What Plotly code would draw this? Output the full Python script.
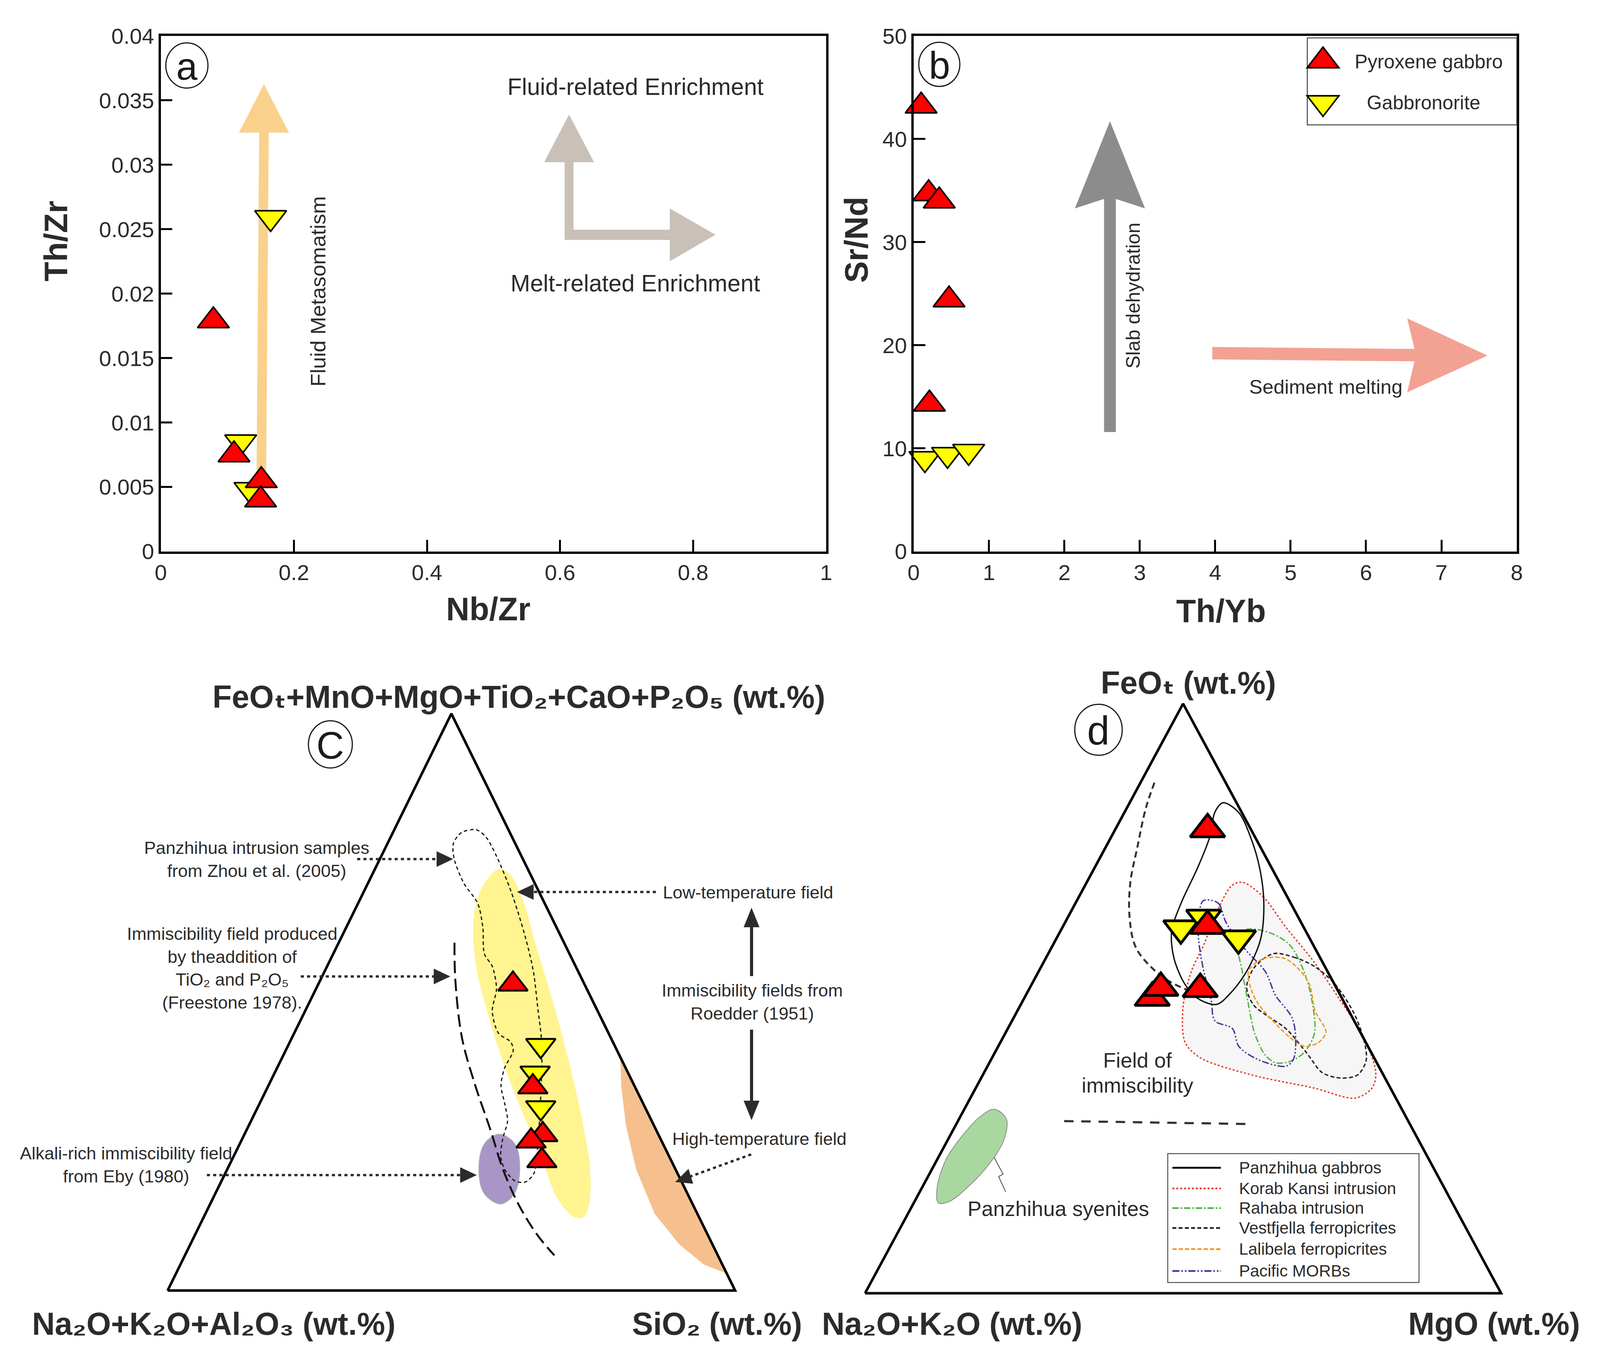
import math
import plotly.graph_objects as go

FONT = "Liberation Sans, Arial, Helvetica, DejaVu Sans, sans-serif"
TXT = "#2b2b2b"

# ------------------------------------------------------------------ data
# (a) Nb/Zr vs Th/Zr
a_pyx_nbzr = [0.079, 0.110, 0.151, 0.150]
a_pyx_thzr = [0.0179, 0.0075, 0.0055, 0.0040]
a_gbn_nbzr = [0.165, 0.120, 0.134]
a_gbn_thzr = [0.0259, 0.0085, 0.0048]
a_xticks = [0, 0.2, 0.4, 0.6, 0.8, 1]
a_xlabels = ["0", "0.2", "0.4", "0.6", "0.8", "1"]
a_yticks = [0, 0.005, 0.01, 0.015, 0.02, 0.025, 0.03, 0.035, 0.04]
a_ylabels = ["0", "0.005", "0.01", "0.015", "0.02", "0.025", "0.03", "0.035", "0.04"]

# (b) Th/Yb vs Sr/Nd
b_pyx_thyb = [0.10, 0.20, 0.34, 0.47, 0.21]
b_pyx_srnd = [43.2, 34.7, 34.0, 24.4, 14.3]
b_gbn_thyb = [0.15, 0.45, 0.73]
b_gbn_srnd = [9.0, 9.4, 9.7]
b_xticks = [0, 1, 2, 3, 4, 5, 6, 7, 8]
b_yticks = [0, 10, 20, 30, 40, 50]

# (c) ternary: A = FeOt+MnO+MgO+TiO2+CaO+P2O5 (top), B = Na2O+K2O+Al2O3 (left), C = SiO2 (right)
c_pyx_A = [53.1, 35.3, 27.0, 25.9, 22.5]
c_pyx_B = [12.6, 18.0, 20.4, 23.0, 22.8]
c_pyx_C = [34.3, 46.7, 52.6, 51.1, 54.7]
c_gbn_A = [42.5, 37.7, 31.7]
c_gbn_B = [13.0, 16.4, 18.4]
c_gbn_C = [44.5, 45.9, 49.9]
# fields (A, C in %, B = remainder)
c_lowT_A = [73.0, 69.8, 64.5, 56.8, 49.2, 40.0, 32.4, 24.0, 16.4, 12.9, 12.7, 14.8, 21.0, 28.6, 40.0, 49.2, 59.9, 68.3, 72.3]
c_lowT_C = [21.8, 20.5, 21.7, 25.9, 31.5, 39.0, 45.7, 53.6, 60.3, 64.9, 66.8, 66.8, 63.9, 58.9, 50.6, 43.5, 34.9, 28.2, 24.0]
c_highT_A = [40.4, 35.5, 28.6, 21.0, 13.3, 8.0, 4.5, 3.0]
c_highT_C = [59.6, 62.2, 66.5, 72.1, 79.2, 86.2, 92.3, 97.0]
c_eby_A = [27.1, 25.4, 21.1, 16.8, 15.0, 16.8, 21.1, 25.4]
c_eby_C = [44.9, 48.5, 51.5, 52.7, 51.2, 47.4, 44.3, 43.1]
c_zhou_A = [79.9, 79.4, 77.5, 74.8, 70.6, 67.1, 62.9, 58.4, 56.1, 52.3, 48.4, 44.6, 43.1, 41.6, 38.5, 35.5,
            32.4, 29.4, 26.3, 23.2, 21.0, 19.0, 18.8, 20.2, 24.8, 42.3, 49.2, 55.3, 61.4, 69.1, 75.2, 78.6]
c_zhou_C = [14.4, 12.1, 11.6, 13.1, 16.9, 21.1, 24.1, 26.6, 29.2, 31.8, 33.0, 36.0, 38.9, 40.1, 40.1, 41.0,
            43.2, 45.2, 45.9, 47.1, 48.9, 51.7, 53.6, 54.4, 52.8, 44.8, 40.6, 36.8, 32.3, 26.0, 20.4, 16.8]
c_free_A = [60.3, 53.8, 43.9, 36.2, 27.8, 21.0, 14.8, 9.5, 6.1]
c_free_C = [20.4, 23.8, 29.9, 35.9, 43.0, 48.6, 54.5, 60.5, 65.1]

# (d) ternary: A = FeOt (top), B = Na2O+K2O (left), C = MgO (right)
d_pyx_A = [78.7, 62.3, 50.1, 51.8, 51.6]
d_pyx_B = [6.8, 15.0, 29.8, 27.6, 21.5]
d_pyx_C = [14.5, 22.7, 20.1, 20.6, 26.9]
d_gbn_A = [61.9, 63.7, 60.2]
d_gbn_B = [19.4, 14.9, 11.2]
d_gbn_C = [18.7, 21.4, 28.6]
d_pg_A = [83.2, 81.6, 77.4, 71.8, 65.8, 59.9, 54.6, 50.9, 49.0, 49.8, 52.4, 56.9, 61.4, 66.2, 72.2, 77.4, 81.6]
d_pg_C = [14.7, 17.9, 21.9, 26.2, 29.8, 32.2, 32.7, 32.0, 30.8, 27.7, 24.1, 20.1, 17.5, 16.6, 16.2, 15.5, 14.2]
d_kk_A = [69.7, 67.3, 62.1, 56.1, 50.1, 43.4, 37.4, 34.8, 33.1, 34.8, 37.0, 40.0, 42.6, 48.6, 54.6, 59.1, 64.3, 69.2]
d_kk_C = [24.5, 28.9, 35.1, 42.6, 49.4, 56.7, 61.6, 62.3, 60.5, 53.2, 42.4, 32.6, 29.0, 25.7, 24.0, 23.7, 23.0, 23.1]
d_rh_A = [61.6, 61.2, 59.1, 54.6, 49.4, 44.1, 40.8, 39.3, 39.1, 40.4, 44.1, 49.4, 54.6, 58.4]
d_rh_C = [28.9, 32.9, 37.2, 41.7, 45.6, 48.6, 48.6, 47.1, 45.0, 42.7, 39.2, 35.5, 32.0, 29.5]
d_vf_A = [57.6, 57.0, 55.4, 52.4, 47.1, 41.9, 39.3, 37.0, 36.5, 37.4, 40.8, 44.9, 47.1, 49.0, 52.0, 55.4]
d_vf_C = [35.4, 38.9, 43.0, 47.7, 53.5, 57.7, 59.1, 58.9, 56.6, 53.2, 49.0, 43.7, 39.6, 36.5, 34.0, 33.6]
d_lb_A = [54.6, 56.7, 56.7, 52.8, 47.9, 44.3, 42.5, 41.9, 43.4, 46.5, 50.1]
d_lb_C = [33.0, 34.2, 37.8, 43.3, 46.8, 50.3, 50.0, 48.1, 45.1, 40.6, 36.2]
d_mb_A = [66.6, 66.2, 62.9, 58.4, 54.6, 50.5, 46.8, 43.4, 39.7, 38.5, 39.7, 41.9, 44.9, 46.2, 49.8, 55.4, 60.6, 64.7]
d_mb_C = [19.9, 22.4, 25.3, 30.5, 35.6, 39.3, 43.7, 46.0, 47.5, 46.9, 41.8, 37.8, 35.3, 31.9, 29.5, 25.4, 22.1, 20.2]
d_imm_A = [86.6, 82.3, 75.6, 69.6, 63.6, 58.7, 55.4, 53.0, 51.3]
d_imm_C = [2.2, 3.0, 5.0, 6.9, 9.8, 13.2, 17.2, 21.2, 25.3]
d_hline_A = [29.2, 28.7]
d_hline_C = [16.7, 46.0]
d_sy_A = [31.2, 29.6, 26.2, 22.1, 18.3, 15.6, 15.3, 17.6, 22.4, 26.6, 29.9]
d_sy_C = [4.7, 7.4, 8.8, 8.6, 7.3, 5.5, 3.9, 2.5, 1.4, 1.9, 3.1]
d_zig_A = [23.0, 20.2, 19.8, 17.2]
d_zig_C = [8.8, 11.6, 11.1, 13.5]

frame_A = [0, 100, 0, 0]
frame_C = [0, 0, 100, 0]

legend_d_names = ["Panzhihua gabbros", "Korab Kansi intrusion", "Rahaba intrusion",
                  "Vestfjella ferropicrites", "Lalibela ferropicrites", "Pacific MORBs"]

# ------------------------------------------------------------------ page geometry
# layout positions are given in a 4441 x 3497 design space and mapped onto the
# visible page area (about 4090 x 3497 px, 8 px body margin)
SX = 0.921
MRG = 8
WF, HF = 4066, 3480
FS = 0.94          # font / marker scale

A_BOX = (433, 62, 2297, 1406)     # left, top, right, bottom
B_BOX = (2542, 62, 4232, 1406)
C_TRI = (452, 2042, 1829, 3333)   # left, right, top, base
D_TRI = (2406, 4188, 1803, 3340)
PAD = 0.03


def px(x):
    return (SX * x - MRG) / WF


def py(y):
    return 1 - (y - MRG) / HF


def f(s):
    return round(s * FS, 1)


def tern_xy(A, C, B=None, close=False):
    if B is None:
        B = [100 - a - c for a, c in zip(A, C)]
    xs, ys = [], []
    for a, b, c in zip(A, B, C):
        s = a + b + c
        xs.append((c + a / 2) / s)
        ys.append(a / s)
    if close:
        xs.append(xs[0])
        ys.append(ys[0])
    return xs, ys


def mk(symbol, color, size, lw):
    return dict(symbol=symbol, color=color, size=f(size), line=dict(color="black", width=lw))


MS_AB, MS_C, MS_D = 75, 70, 82

fig = go.Figure()

# ---------------- panel a
fig.add_trace(go.Scatter(x=a_gbn_nbzr, y=a_gbn_thzr, mode="markers", name="Gabbronorite",
                         marker=mk("triangle-down", "#FFFF00", MS_AB, 4), xaxis="x", yaxis="y",
                         cliponaxis=False))
fig.add_trace(go.Scatter(x=a_pyx_nbzr, y=a_pyx_thzr, mode="markers", name="Pyroxene gabbro",
                         marker=mk("triangle-up", "#FF0000", MS_AB, 4), xaxis="x", yaxis="y",
                         cliponaxis=False))
# ---------------- panel b
fig.add_trace(go.Scatter(x=b_gbn_thyb, y=b_gbn_srnd, mode="markers", name="Gabbronorite",
                         marker=mk("triangle-down", "#FFFF00", MS_AB, 4), xaxis="x2", yaxis="y2",
                         cliponaxis=False))
fig.add_trace(go.Scatter(x=b_pyx_thyb, y=b_pyx_srnd, mode="markers", name="Pyroxene gabbro",
                         marker=mk("triangle-up", "#FF0000", MS_AB, 4), xaxis="x2", yaxis="y2",
                         cliponaxis=False))


def add_field(A, C, ax, fill=None, line_color=None, width=0, dash=None, shape="spline", close=True,
              smoothing=1.0):
    xs, ys = tern_xy(A, C, close=close)
    line = dict(width=width, shape=shape)
    if shape == "spline":
        line["smoothing"] = smoothing
    if line_color:
        line["color"] = line_color
    if dash:
        line["dash"] = dash
    kw = dict(x=xs, y=ys, mode="lines", line=line, xaxis="x" + ax, yaxis="y" + ax,
              hoverinfo="skip", showlegend=False)
    if fill:
        kw["fill"] = "toself"
        kw["fillcolor"] = fill
    fig.add_trace(go.Scatter(**kw))


# ---------------- panel c
add_field(c_lowT_A, c_lowT_C, "3", fill="#FFF48F", line_color="#FFF48F", width=1)
add_field(c_highT_A, c_highT_C, "3", fill="#F6C08E", line_color="#F6C08E", width=1, shape="linear")
add_field(c_eby_A, c_eby_C, "3", fill="#A996C6", line_color="#9DB8A8", width=2)
add_field(c_zhou_A, c_zhou_C, "3", line_color="#111111", width=3, dash="9px,7px", smoothing=0.8)
add_field(c_free_A, c_free_C, "3", line_color="#111111", width=5, dash="32px,14px", close=False)
fx, fy = tern_xy(frame_A, frame_C)
fig.add_trace(go.Scatter(x=fx, y=fy, mode="lines", line=dict(color="black", width=6.5),
                         xaxis="x3", yaxis="y3", hoverinfo="skip", showlegend=False))
xs, ys = tern_xy(c_gbn_A, c_gbn_C, c_gbn_B)
fig.add_trace(go.Scatter(x=xs, y=ys, mode="markers", marker=mk("triangle-down", "#FFFF00", MS_C, 5),
                         xaxis="x3", yaxis="y3", showlegend=False, cliponaxis=False))
xs, ys = tern_xy(c_pyx_A, c_pyx_C, c_pyx_B)
fig.add_trace(go.Scatter(x=xs, y=ys, mode="markers", marker=mk("triangle-up", "#FF0000", MS_C, 5),
                         xaxis="x3", yaxis="y3", showlegend=False, cliponaxis=False))

# ---------------- panel d
D_STYLES = [
    dict(color="#111111", dash="solid", width=3.5),
    dict(color="#E53B2C", dash="5px,5px", width=3.5),
    dict(color="#52B447", dash="16px,5px,4px,5px", width=3.5),
    dict(color="#222222", dash="10px,6px", width=3.5),
    dict(color="#F29A1F", dash="11px,5px", width=3.5),
    dict(color="#45369A", dash="18px,5px,4px,5px,4px,5px", width=3.5),
]
add_field(d_kk_A, d_kk_C, "4", fill="#F6F6F6", line_color="#F6F6F6", width=0)
add_field(d_sy_A, d_sy_C, "4", fill="#A9D7A0", line_color="#8A8A8A", width=2)
add_field(d_zig_A, d_zig_C, "4", line_color="#444444", width=2, shape="linear", close=False)
add_field(d_imm_A, d_imm_C, "4", line_color="#333333", width=5, dash="16px,10px", close=False)
add_field(d_hline_A, d_hline_C, "4", line_color="#333333", width=5.5, dash="24px,20px",
          shape="linear", close=False)
for (A, C), st in zip([(d_kk_A, d_kk_C), (d_rh_A, d_rh_C), (d_vf_A, d_vf_C),
                       (d_lb_A, d_lb_C), (d_mb_A, d_mb_C)], D_STYLES[1:]):
    add_field(A, C, "4", line_color=st["color"], width=st["width"], dash=st["dash"], smoothing=0.9)
add_field(d_pg_A, d_pg_C, "4", line_color=D_STYLES[0]["color"], width=3.5, smoothing=0.9)
fx, fy = tern_xy(frame_A, frame_C)
fig.add_trace(go.Scatter(x=fx, y=fy, mode="lines", line=dict(color="black", width=6.5),
                         xaxis="x4", yaxis="y4", hoverinfo="skip", showlegend=False))
xs, ys = tern_xy(d_gbn_A, d_gbn_C, d_gbn_B)
fig.add_trace(go.Scatter(x=xs, y=ys, mode="markers", marker=mk("triangle-down", "#FFFF00", MS_D, 7),
                         xaxis="x4", yaxis="y4", showlegend=False, cliponaxis=False))
xs, ys = tern_xy(d_pyx_A, d_pyx_C, d_pyx_B)
fig.add_trace(go.Scatter(x=xs, y=ys, mode="markers", marker=mk("triangle-up", "#FF0000", MS_D, 7),
                         xaxis="x4", yaxis="y4", showlegend=False, cliponaxis=False))


# ------------------------------------------------------------------ axes
def frame_axis(domain, rng, tickvals, ticktext, anchor):
    return dict(domain=domain, range=rng, tickvals=tickvals, ticktext=ticktext, ticks="inside",
                ticklen=30, tickwidth=5, tickcolor="black", showline=True, linewidth=5.5,
                linecolor="black", mirror=True, showgrid=False, zeroline=False,
                tickfont=dict(family=FONT, size=f(60), color=TXT), anchor=anchor, fixedrange=True)


def tern_axes(tri):
    l, r, t, b = tri
    w, h = r - l, b - t
    xd = [px(l - PAD * w), px(r + PAD * w)]
    yd = [py(b + PAD * h), py(t - PAD * h)]
    return xd, yd


ax_l, ax_t, ax_r, ax_b = A_BOX
bx_l, bx_t, bx_r, bx_b = B_BOX
c_xd, c_yd = tern_axes(C_TRI)
d_xd, d_yd = tern_axes(D_TRI)
hidden = dict(range=[-PAD, 1 + PAD], visible=False, fixedrange=True, showgrid=False, zeroline=False)

layout = dict(
    width=WF, height=HF, margin=dict(l=0, r=0, t=0, b=0), paper_bgcolor="white",
    plot_bgcolor="white", showlegend=False, font=dict(family=FONT, color=TXT),
    xaxis=frame_axis([px(ax_l), px(ax_r)], [0, 1], a_xticks, a_xlabels, "y"),
    yaxis=frame_axis([py(ax_b), py(ax_t)], [0, 0.04], a_yticks, a_ylabels, "x"),
    xaxis2=frame_axis([px(bx_l), px(bx_r)], [0, 8], b_xticks, [str(v) for v in b_xticks], "y2"),
    yaxis2=frame_axis([py(bx_b), py(bx_t)], [0, 50], b_yticks, [str(v) for v in b_yticks], "x2"),
    xaxis3=dict(domain=c_xd, anchor="y3", **hidden),
    yaxis3=dict(domain=c_yd, anchor="x3", **hidden),
    xaxis4=dict(domain=d_xd, anchor="y4", **hidden),
    yaxis4=dict(domain=d_yd, anchor="x4", **hidden),
)
fig.update_layout(**layout)

# ------------------------------------------------------------------ decorations
shapes = []
ann = []


def T(text, x, y, size, angle=0, xanchor="center", color=TXT, align="center", weight="normal"):
    ann.append(dict(text=text, x=px(x), y=py(y), xref="paper", yref="paper", showarrow=False,
                    font=dict(family=FONT, size=f(size), color=color, weight=weight),
                    textangle=angle, xanchor=xanchor, yanchor="middle", align=align))


def circle_label(letter, cx, cy, d, size):
    r = d / 2
    shapes.append(dict(type="circle", xref="paper", yref="paper", x0=px(cx - r), x1=px(cx + r),
                       y0=py(cy + r), y1=py(cy - r), line=dict(color="#1a1a1a", width=3),
                       fillcolor="rgba(0,0,0,0)"))
    T(letter, cx, cy + 2, size, color="#1a1a1a")


def pix_path(pts):
    s = " L ".join(f"{SX * x:.1f},{y:.1f}" for x, y in pts)
    return "M " + s + " Z"


def head(tip, frm, length, width, color=TXT):
    tx, ty = tip
    fx_, fy_ = frm
    dx, dy = tx - fx_, -(ty - fy_)
    n = math.hypot(dx, dy)
    ux, uy = dx / n, dy / n
    bx, by = -ux * length, -uy * length
    qx, qy = -uy * width / 2, ux * width / 2
    path = pix_path([(0, 0), (bx + qx, by + qy), (bx - qx, by - qy)])
    shapes.append(dict(type="path", xref="paper", yref="paper", xsizemode="pixel", ysizemode="pixel",
                       xanchor=px(tx), yanchor=py(ty), path=path, fillcolor=color, line=dict(width=0)))


def dotted_arrow(frm, tip, length=46, width=40):
    tx, ty = tip
    fx_, fy_ = frm
    n = math.hypot(tx - fx_, ty - fy_)
    ex = tx - (tx - fx_) / n * length * 0.9
    ey = ty - (ty - fy_) / n * length * 0.9
    shapes.append(dict(type="line", xref="paper", yref="paper", x0=px(fx_), y0=py(fy_), x1=px(ex),
                       y1=py(ey), line=dict(color=TXT, width=6, dash="8px,8px")))
    head(tip, frm, length, width)


def tri_key(x, y, up, color, size=MS_AB, lw=4):
    r = f(size) / 2
    rt = r * 2 / math.sqrt(3) / SX
    if up:
        pts = [(-rt, -r / 2), (rt, -r / 2), (0, r)]
    else:
        pts = [(-rt, r / 2), (rt, r / 2), (0, -r)]
    shapes.append(dict(type="path", xref="paper", yref="paper", xsizemode="pixel", ysizemode="pixel",
                       xanchor=px(x), yanchor=py(y), path=pix_path(pts), fillcolor=color,
                       line=dict(color="black", width=lw)))


# panel a arrows (data coordinates of axes a)
shapes.append(dict(type="path", xref="x", yref="y", layer="below", line=dict(width=0),
                   fillcolor="#F9D18C",
                   path="M 0.1438,0.0055 L 0.1582,0.0055 L 0.1622,0.0325 L 0.1926,0.0325 "
                        "L 0.155,0.03626 L 0.1174,0.0325 L 0.1478,0.0325 Z"))
shapes.append(dict(type="path", xref="x", yref="y", layer="below", line=dict(width=0),
                   fillcolor="#C9C0B7",
                   path="M 0.6069,0.0244 L 0.6203,0.0244 L 0.6203,0.0302 L 0.6511,0.0302 "
                        "L 0.6136,0.0339 L 0.5761,0.0302 L 0.6069,0.0302 Z"))
shapes.append(dict(type="path", xref="x", yref="y", layer="below", line=dict(width=0),
                   fillcolor="#C9C0B7",
                   path="M 0.607,0.02417 L 0.765,0.02417 L 0.765,0.02252 L 0.8336,0.02457 "
                        "L 0.765,0.02662 L 0.765,0.02497 L 0.607,0.02497 Z"))
# panel b arrows
shapes.append(dict(type="path", xref="x2", yref="y2", layer="below", line=dict(width=0),
                   fillcolor="#8C8C8C",
                   path="M 2.526,11.58 L 2.682,11.58 L 2.682,34.19 L 3.069,33.27 L 2.604,41.73 "
                        "L 2.139,33.27 L 2.526,34.19 Z"))
shapes.append(dict(type="path", xref="x2", yref="y2", layer="below", line=dict(width=0),
                   fillcolor="#F3A193",
                   path="M 3.961,19.83 L 6.643,19.64 L 6.546,22.61 L 7.612,19.0 L 6.546,15.44 "
                        "L 6.643,18.44 L 3.961,18.63 Z"))

# panel a texts
T("Nb/Zr", 1350, 1557, 88, weight="bold")
T("Th/Zr", 139, 597, 88, angle=-90, weight="bold")
T("Fluid-related Enrichment", 1763, 195, 64)
T("Melt-related Enrichment", 1762, 707, 64)
T("Fluid Metasomatism", 874, 728, 58, angle=-90)
circle_label("a", 506, 139, 118, 104)

# panel b texts + legend
T("Th/Yb", 3404, 1562, 88, weight="bold")
T("Sr/Nd", 2382, 593, 88, angle=-90, weight="bold")
T("Slab dehydration", 3157, 739, 53, angle=-90)
T("Sediment melting", 3697, 977, 54)
circle_label("b", 2614, 136, 115, 104)
shapes.append(dict(type="rect", xref="paper", yref="paper", x0=px(3645), x1=px(4232), y0=py(294),
                   y1=py(67), line=dict(color="#444444", width=2.5), fillcolor="white"))
tri_key(3689, 127, True, "#FF0000")
tri_key(3689, 236, False, "#FFFF00")
T("Pyroxene gabbro", 3985, 129, 53)
T("Gabbronorite", 3971, 236, 53)

# panel c texts
T("FeO\u209c+MnO+MgO+TiO\u2082+CaO+P\u2082O\u2085 (wt.%)", 1436, 1785, 86, weight="bold")
T("Na\u2082O+K\u2082O+Al\u2082O\u2083 (wt.%)", 582, 3420, 86, weight="bold")
T("SiO\u2082 (wt.%)", 1991, 3420, 86, weight="bold")
circle_label("C", 908, 1909, 123, 104)
T("Panzhihua intrusion samples<br>from Zhou et al. (2005)", 702, 2209, 48)
T("Immiscibility field produced<br>by theaddition of<br>TiO\u2082 and P\u2082O\u2085<br>(Freestone 1978).",
  633, 2492, 48)
T("Alkali-rich immiscibility field<br>from Eby (1980)", 336, 3005, 48)
T("Low-temperature field", 2078, 2295, 48)
T("Immiscibility fields from<br>Roedder (1951)", 2090, 2581, 48)
T("High-temperature field", 2110, 2938, 48)
dotted_arrow((983, 2208), (1252, 2208))
dotted_arrow((825, 2514), (1244, 2514))
dotted_arrow((562, 3032), (1318, 3032))
dotted_arrow((1820, 2294), (1431, 2294))
dotted_arrow((2087, 2978), (1874, 3050))
# Roedder double arrow
shapes.append(dict(type="line", xref="paper", yref="paper", x0=px(2088), x1=px(2088), y0=py(2375),
                   y1=py(2513), line=dict(color=TXT, width=8)))
shapes.append(dict(type="line", xref="paper", yref="paper", x0=px(2088), x1=px(2088), y0=py(2653),
                   y1=py(2850), line=dict(color=TXT, width=8)))
head((2088, 2335), (2088, 2513), 50, 44)
head((2088, 2889), (2088, 2653), 50, 44)

# panel d texts + legend
T("FeO\u209c (wt.%)", 3312, 1748, 86, weight="bold")
T("Na\u2082O+K\u2082O (wt.%)", 2650, 3420, 86, weight="bold")
T("MgO (wt.%)", 4169, 3420, 86, weight="bold")
circle_label("d", 3060, 1871, 133, 110)
T("Field of", 3169, 2732, 57)
T("immiscibility", 3169, 2798, 57)
T("Panzhihua syenites", 2948, 3119, 57)
shapes.append(dict(type="rect", xref="paper", yref="paper", x0=px(3254), x1=px(3958), y0=py(3312),
                   y1=py(2976), line=dict(color="#555555", width=2.5), fillcolor="white"))
row_y = [3013, 3067, 3118, 3170, 3225, 3282]
for name, st, yy in zip(legend_d_names, D_STYLES, row_y):
    shapes.append(dict(type="line", xref="paper", yref="paper", x0=px(3267), x1=px(3403), y0=py(yy),
                       y1=py(yy), line=dict(color=st["color"], width=5 if st["dash"] == "solid" else 4.5,
                                            dash=st["dash"])))
    T(name, 3452, yy, 45, xanchor="left")

fig.update_layout(shapes=shapes, annotations=ann)
fig.write_html("out.html")
